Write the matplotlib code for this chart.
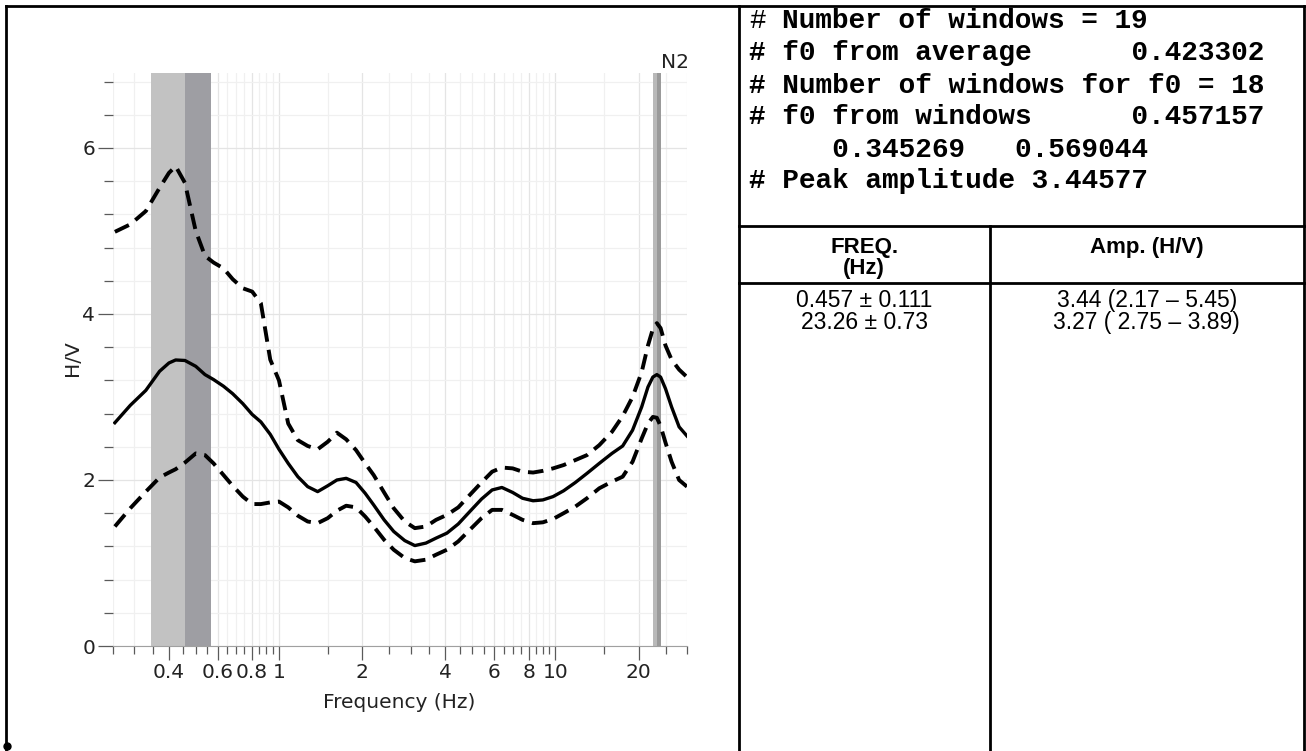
import matplotlib
matplotlib.use("Agg")
import matplotlib.pyplot as plt
from matplotlib.lines import Line2D
from matplotlib.ticker import FixedLocator, FixedFormatter, NullFormatter

# ---------------------------------------------------------------- data
freq = [0.255, 0.29, 0.33, 0.37, 0.40, 0.423, 0.457, 0.50, 0.54, 0.58,
        0.63, 0.68, 0.74, 0.80, 0.86, 0.93, 1.0, 1.08, 1.17, 1.27,
        1.38, 1.5, 1.62, 1.75, 1.9, 2.05, 2.2, 2.4, 2.6, 2.85,
        3.1, 3.4, 3.7, 4.05, 4.45, 4.9, 5.4, 5.9, 6.4, 7.0,
        7.6, 8.3, 9.0, 9.8, 10.7, 11.8, 13.0, 14.4, 16.0, 17.5,
        19.0, 20.5, 21.6, 22.5, 23.26, 24.0, 25.0, 26.3, 28.0, 29.9]

hv_average = [2.69, 2.90, 3.08, 3.31, 3.41, 3.446, 3.44, 3.37, 3.27, 3.21,
              3.13, 3.04, 2.92, 2.79, 2.70, 2.55, 2.37, 2.20, 2.04, 1.92,
              1.86, 1.93, 2.00, 2.02, 1.97, 1.84, 1.70, 1.52, 1.38, 1.27,
              1.21, 1.24, 1.30, 1.36, 1.47, 1.62, 1.77, 1.88, 1.91, 1.85,
              1.78, 1.75, 1.76, 1.80, 1.87, 1.97, 2.08, 2.20, 2.32, 2.41,
              2.60, 2.88, 3.12, 3.24, 3.27, 3.24, 3.10, 2.88, 2.64, 2.53]

hv_upper = [4.99, 5.08, 5.24, 5.52, 5.70, 5.78, 5.58, 5.00, 4.70, 4.62,
            4.55, 4.42, 4.31, 4.27, 4.13, 3.45, 3.20, 2.68, 2.48, 2.41,
            2.37, 2.46, 2.57, 2.49, 2.36, 2.20, 2.06, 1.85, 1.66, 1.50,
            1.42, 1.44, 1.52, 1.58, 1.67, 1.82, 1.97, 2.10, 2.15, 2.14,
            2.10, 2.09, 2.11, 2.14, 2.18, 2.24, 2.30, 2.42, 2.58, 2.77,
            3.00, 3.30, 3.62, 3.82, 3.89, 3.83, 3.62, 3.45, 3.33, 3.24]

hv_lower = [1.44, 1.66, 1.86, 2.03, 2.09, 2.13, 2.21, 2.32, 2.30, 2.20,
            2.06, 1.93, 1.80, 1.71, 1.71, 1.73, 1.74, 1.67, 1.57, 1.50,
            1.48, 1.54, 1.63, 1.69, 1.67, 1.56, 1.44, 1.28, 1.16, 1.06,
            1.02, 1.04, 1.10, 1.16, 1.26, 1.40, 1.54, 1.64, 1.64, 1.58,
            1.52, 1.48, 1.49, 1.53, 1.60, 1.68, 1.78, 1.90, 1.98, 2.04,
            2.22, 2.50, 2.68, 2.76, 2.75, 2.65, 2.45, 2.22, 2.00, 1.92]

# f0 from windows and its spread
f0_low, f0_mid, f0_high = 0.345269, 0.457157, 0.569044
# second peak (N2)
n2_freq, n2_sd = 23.26, 0.73
n2_label = "N2"

x_major = [0.4, 0.6, 0.8, 1, 2, 4, 6, 8, 10, 20]
x_major_labels = ["0.4", "0.6", "0.8", "1", "2", "4", "6", "8", "10", "20"]
x_minor = [0.25, 0.3, 0.35, 0.45, 0.5, 0.55, 0.65, 0.7, 0.75, 0.85, 0.9, 0.95,
           1.5, 2.5, 3, 3.5, 4.5, 5, 5.5, 6.5, 7, 7.5, 8.5, 9, 9.5, 15, 25, 30]
y_major = [0, 2, 4, 6]
y_major_labels = ["0", "2", "4", "6"]
y_minor = [0.4, 0.8, 1.2, 1.6, 2.4, 2.8, 3.2, 3.6, 4.4, 4.8, 5.2, 5.6, 6.4, 6.8]

x_label = "Frequency (Hz)"
y_label = "H/V"

# first line: a plain "#" followed by bold text two columns further on
stats_first_mark = "#"
stats_first_text = "Number of windows = 19"
stats_lines = [
    "# f0 from average      0.423302",
    "# Number of windows for f0 = 18",
    "# f0 from windows      0.457157",
    "     0.345269   0.569044",
    "# Peak amplitude 3.44577",
]
table_header = ["FREQ.", "(Hz)", "Amp. (H/V)"]
table_freq = ["0.457 \u00b1 0.111", "23.26 \u00b1 0.73"]
table_amp = ["3.44 (2.17 \u2013 5.45)", "3.27 ( 2.75 \u2013 3.89)"]

# ---------------------------------------------------------------- figure
W, H = 1306, 751
fig = plt.figure(figsize=(W / 100, H / 100), dpi=100)
fig.patch.set_facecolor("white")


def fx(px):
    return px / W


def fy(py):
    return 1 - py / H


ax_left, ax_right, ax_bottom, ax_top = 112.5, 687.4, 646.0, 73.3
ax = fig.add_axes([fx(ax_left), fy(ax_bottom),
                   (ax_right - ax_left) / W, (ax_bottom - ax_top) / H])
ax.set_xscale("log")
ax.set_xlim(0.25, 30)
ax.set_ylim(0, 6.9)

ax.xaxis.set_major_locator(FixedLocator(x_major))
ax.xaxis.set_major_formatter(FixedFormatter(x_major_labels))
ax.xaxis.set_minor_locator(FixedLocator(x_minor))
ax.xaxis.set_minor_formatter(NullFormatter())
ax.yaxis.set_major_locator(FixedLocator(y_major))
ax.yaxis.set_major_formatter(FixedFormatter(y_major_labels))
ax.yaxis.set_minor_locator(FixedLocator(y_minor))

tick_col = "#5a5a5a"
ax.tick_params(axis="x", which="major", direction="out", length=10, width=0.9,
               color=tick_col, labelsize=14.5, labelcolor="#222222", pad=2)
ax.tick_params(axis="x", which="minor", direction="out", length=5.5, width=0.9,
               color=tick_col)
ax.tick_params(axis="y", which="major", direction="out", length=10.5, width=0.9,
               color=tick_col, labelsize=14.5, labelcolor="#222222", pad=2)
ax.tick_params(axis="y", which="minor", direction="out", length=6.5, width=0.9,
               color=tick_col)

for side in ("top", "right", "left"):
    ax.spines[side].set_visible(False)
ax.spines["bottom"].set_color("#a0a0a0")
ax.spines["bottom"].set_linewidth(0.8)

ax.set_axisbelow(True)
ax.grid(which="minor", color="#f0f0f0", lw=0.9)
ax.grid(which="major", color="#e4e4e4", lw=0.9)

# shaded f0 ranges
ax.axvspan(f0_low, f0_mid, color="#c2c2c2", lw=0, zorder=1)
ax.axvspan(f0_mid, f0_high, color="#9e9ea3", lw=0, zorder=1)
ax.axvspan(n2_freq - n2_sd, n2_freq, color="#b9b9b9", lw=0, zorder=1)
ax.axvspan(n2_freq, n2_freq + n2_sd, color="#9a9a9a", lw=0, zorder=1)
ax.annotate(n2_label, xy=(n2_freq + n2_sd, 6.9), xytext=(0, 3.6),
            textcoords="offset points", ha="left", va="baseline",
            fontsize=14.5, color="#222222", annotation_clip=False)

# H/V curves
dash = (0, (4.0, 2.1))
ax.plot(freq, hv_upper, color="black", lw=2.8, linestyle=dash,
        dash_capstyle="butt", zorder=3)
ax.plot(freq, hv_lower, color="black", lw=2.8, linestyle=dash,
        dash_capstyle="butt", zorder=3)
ax.plot(freq, hv_average, color="black", lw=2.4, zorder=4,
        solid_joinstyle="round")

fig.text(fx(72.5), fy(358), y_label, rotation=90, ha="center", va="center",
         fontsize=14.5, color="#222222")
fig.text(fx(399), fy(703), x_label, ha="center", va="center",
         fontsize=14.5, color="#222222")

# ---------------------------------------------------------------- frame / table
def frame_line(xs, ys):
    fig.add_artist(Line2D([fx(v) for v in xs], [fy(v) for v in ys],
                          transform=fig.transFigure, color="black", lw=2.0,
                          solid_capstyle="projecting"))


frame_line([6.2, 6.2], [6.2, 751])
frame_line([6.2, 1303.5], [6.2, 6.2])
frame_line([738.5, 738.5], [6.2, 751])
frame_line([1303.5, 1303.5], [6.2, 751])
frame_line([990, 990], [226, 751])
frame_line([738.5, 1303.5], [226, 226])
frame_line([738.5, 1303.5], [283, 283])
fig.add_artist(Line2D([fx(7)], [fy(746)], transform=fig.transFigure,
                      marker="o", ms=5, color="black", lw=0))

mono = "Liberation Mono"
mono_size = 20.0
char_adv = 0.6 * mono_size * 100 / 72      # monospaced advance in pixels
text_x0 = 749
baselines = [28, 60, 93, 124, 157, 188]
fig.text(fx(text_x0), fy(baselines[0]), stats_first_mark, family=mono,
         fontsize=mono_size, weight="normal", ha="left", va="baseline")
fig.text(fx(text_x0 + 2 * char_adv), fy(baselines[0]), stats_first_text,
         family=mono, fontsize=mono_size, weight="bold", ha="left",
         va="baseline")
for line, yb in zip(stats_lines, baselines[1:]):
    fig.text(fx(text_x0), fy(yb), line, family=mono, fontsize=mono_size,
             weight="bold", ha="left", va="baseline")

col1_c, col2_c = (738.5 + 990) / 2, (990 + 1303.5) / 2
sans = "Liberation Sans"
fig.text(fx(col1_c), fy(253), table_header[0], family=sans,
         fontsize=16, weight="bold", ha="center", va="baseline")
fig.text(fx(col1_c), fy(274), table_header[1], family=sans,
         fontsize=16, weight="bold", ha="center", va="baseline")
fig.text(fx(col2_c), fy(253), table_header[2], family=sans,
         fontsize=16, weight="bold", ha="center", va="baseline")
for i, yb in enumerate([307, 329]):
    fig.text(fx(col1_c), fy(yb), table_freq[i], family=sans, fontsize=16.5,
             ha="center", va="baseline")
    fig.text(fx(col2_c), fy(yb), table_amp[i], family=sans, fontsize=16.5,
             ha="center", va="baseline")

fig.savefig("out.png", dpi=100, facecolor="white")
